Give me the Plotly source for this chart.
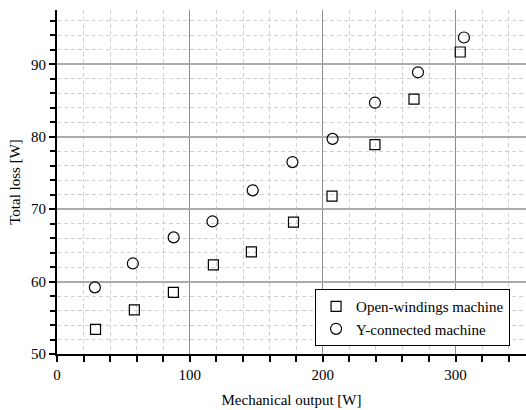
import plotly.graph_objects as go

ow_x = [29, 58.2, 87.6, 117.7, 146.3, 178, 207, 239.3, 268.7, 303.5]
ow_y = [53.4, 56.1, 58.5, 62.3, 64.1, 68.2, 71.8, 78.9, 85.2, 91.7]
y_x = [28.5, 57.1, 87.8, 117, 147.3, 177.2, 207.4, 239.3, 271.7, 306.3]
y_y = [59.2, 62.5, 66.1, 68.3, 72.6, 76.5, 79.7, 84.7, 88.9, 93.7]

font = "Liberation Serif"
fs = 15

fig = go.Figure()
fig.add_trace(go.Scatter(x=ow_x, y=ow_y, mode="markers", name="Open-windings machine",
                         marker=dict(symbol="square-open", size=10, color="black", line=dict(width=1.2))))
fig.add_trace(go.Scatter(x=y_x, y=y_y, mode="markers", name="Y-connected machine",
                         marker=dict(symbol="circle-open", size=11, color="black", line=dict(width=1.2))))

fig.update_layout(
    width=526, height=410,
    margin=dict(l=57, r=0, t=10, b=56),
    paper_bgcolor="white", plot_bgcolor="white",
    font=dict(family=font, size=fs, color="black"),
    showlegend=True,
    legend=dict(x=0.966, y=0.023, xanchor="right", yanchor="bottom",
                bordercolor="black", borderwidth=1, bgcolor="white",
                font=dict(family=font, size=fs, color="black"), tracegroupgap=0, itemwidth=30),
)
fig.update_xaxes(
    range=[0, 353], dtick=100, tick0=0,
    showline=True, linecolor="black", linewidth=2,
    ticks="outside", ticklen=6, tickwidth=1.5, tickcolor="black",
    showgrid=True, gridcolor="#8c8c8c", gridwidth=1,
    zeroline=False,
    minor=dict(dtick=20, showgrid=True, gridcolor="#d0d0d0", griddash="4px,3px", gridwidth=1,
               ticks="outside", ticklen=6, tickwidth=1.5, tickcolor="black"),
    title=dict(text="Mechanical output [W]", font=dict(family=font, size=fs, color="black"), standoff=12),
    tickfont=dict(family=font, size=fs, color="black"),
)
fig.update_yaxes(
    range=[50, 97.5], dtick=10, tick0=50,
    showline=True, linecolor="black", linewidth=2,
    ticks="outside", ticklen=6, tickwidth=1.5, tickcolor="black",
    showgrid=True, gridcolor="#ababab", gridwidth=1.5,
    zeroline=False,
    minor=dict(dtick=2, showgrid=True, gridcolor="#d0d0d0", griddash="4px,3px", gridwidth=1,
               ticks="outside", ticklen=5, tickwidth=1.5, tickcolor="black"),
    title=dict(text="Total loss [W]", font=dict(family=font, size=fs, color="black"), standoff=7),
    tickfont=dict(family=font, size=fs, color="black"),
)
fig.write_html("out.html")
